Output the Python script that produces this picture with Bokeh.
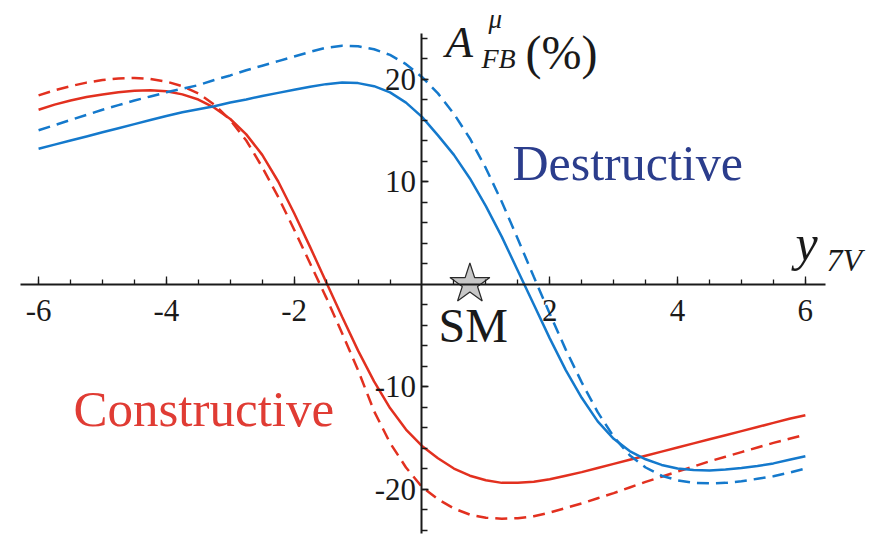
from bokeh.plotting import figure
from bokeh.models import Range1d, LinearAxis, FixedTicker, Label, ColumnDataSource
from bokeh.embed import file_html
from bokeh.resources import INLINE

# ---------------- data ----------------
y7v = [-6.00, -5.75, -5.50, -5.25, -5.00, -4.75, -4.50, -4.25, -4.00, -3.75,
       -3.50, -3.25, -3.00, -2.75, -2.50, -2.25, -2.00, -1.75, -1.50, -1.25,
       -1.00, -0.75, -0.50, -0.25, 0.00, 0.25, 0.50, 0.75, 1.00, 1.25,
       1.50, 1.75, 2.00, 2.25, 2.50, 2.75, 3.00, 3.25, 3.50, 3.75,
       4.00, 4.25, 4.50, 4.75, 5.00, 5.25, 5.50, 5.75, 6.00]

constructive_solid = [17.0, 17.5, 17.9, 18.25, 18.5, 18.7, 18.85, 18.9, 18.8, 18.5,
                      18.0, 17.2, 16.1, 14.6, 12.6, 10.0, 6.9, 3.6, 0.2, -3.2,
                      -6.5, -9.5, -12.1, -14.2, -15.8, -17.0, -18.0, -18.7, -19.15, -19.4,
                      -19.4, -19.3, -19.05, -18.7, -18.35, -17.95, -17.55, -17.15, -16.75, -16.35,
                      -15.95, -15.55, -15.15, -14.75, -14.35, -13.95, -13.55, -13.15, -12.8]

constructive_dashed = [18.4, 18.9, 19.3, 19.65, 19.9, 20.05, 20.1, 20.0, 19.75, 19.3,
                       18.6, 17.5, 16.0, 14.0, 11.4, 8.5, 5.3, 2.0, -1.3, -4.8,
                       -8.4, -12.4, -15.5, -17.9, -19.8, -21.0, -21.9, -22.5, -22.8, -22.9,
                       -22.85, -22.65, -22.3, -21.85, -21.4, -20.9, -20.4, -19.85, -19.3, -18.8,
                       -18.3, -17.8, -17.3, -16.85, -16.4, -15.95, -15.5, -15.1, -14.7]

destructive_solid = [13.2, 13.6, 14.0, 14.4, 14.8, 15.2, 15.6, 16.0, 16.4, 16.75,
                     17.05, 17.35, 17.7, 18.0, 18.35, 18.65, 18.95, 19.25, 19.5, 19.65,
                     19.6, 19.3, 18.7, 17.7, 16.3, 14.5, 12.6, 10.3, 7.6, 4.6,
                     1.3, -2.0, -5.3, -8.4, -11.1, -13.4, -15.1, -16.3, -17.1, -17.65,
                     -18.0, -18.15, -18.2, -18.1, -17.95, -17.75, -17.5, -17.15, -16.8]

destructive_dashed = [15.0, 15.5, 16.0, 16.5, 17.0, 17.45, 17.9, 18.3, 18.7, 19.05,
                      19.4, 19.9, 20.35, 20.85, 21.3, 21.75, 22.2, 22.65, 23.05, 23.25,
                      23.2, 22.9, 22.35, 21.45, 20.2, 18.6, 16.6, 14.2, 11.3, 8.0,
                      4.4, 0.7, -2.9, -6.4, -9.6, -12.5, -14.9, -16.7, -17.9, -18.7,
                      -19.15, -19.4, -19.45, -19.4, -19.25, -19.0, -18.75, -18.4, -18.0]

sm_x = [0.75]
sm_y = [0.0]

x_major_ticks = [-6, -4, -2, 2, 4, 6]
x_minor_ticks = [-6.0, -5.5, -5.0, -4.5, -4.0, -3.5, -3.0, -2.5, -2.0, -1.5, -1.0, -0.5,
                 0.5, 1.0, 1.5, 2.0, 2.5, 3.0, 3.5, 4.0, 4.5, 5.0, 5.5, 6.0]
y_major_ticks = [-20, -10, 10, 20]
y_minor_ticks = [-24, -22, -20, -18, -16, -14, -12, -10, -8, -6, -4, -2,
                 2, 4, 6, 8, 10, 12, 14, 16, 18, 20, 22, 24]

# ---------------- styles ----------------
RED = "#e2301f"
BLUE = "#1479cc"
AXIS = "#1a1a1a"
FONT = "'Liberation Serif', 'Times New Roman', serif"

p = figure(width=885, height=541, output_backend="svg", toolbar_location=None,
           x_range=Range1d(-6.596, 7.254), y_range=Range1d(-25.12, 27.66),
           x_axis_location=None, y_axis_location=None,
           min_border=0, min_border_left=0, min_border_right=0,
           min_border_top=0, min_border_bottom=0)
p.outline_line_color = None
p.xgrid.visible = False
p.ygrid.visible = False
p.background_fill_color = "white"
p.border_fill_color = "white"

src = ColumnDataSource(dict(x=y7v, cs=constructive_solid, cd=constructive_dashed,
                            ds=destructive_solid, dd=destructive_dashed))

p.line("x", "cs", source=src, line_color=RED, line_width=2.5)
p.line("x", "cd", source=src, line_color=RED, line_width=2.5, line_dash="12 7")
p.line("x", "ds", source=src, line_color=BLUE, line_width=2.5)
p.line("x", "dd", source=src, line_color=BLUE, line_width=2.5, line_dash="12 7")

# axes through the origin
xaxis = LinearAxis(fixed_location=0, bounds=(-6.28, 6.31),
                   ticker=FixedTicker(ticks=x_major_ticks, minor_ticks=x_minor_ticks))
xaxis.major_label_overrides = {t: str(t) for t in x_major_ticks}
xaxis.axis_line_color = AXIS
xaxis.axis_line_width = 2
xaxis.major_tick_in = 8
xaxis.major_tick_out = 0
xaxis.minor_tick_in = 5
xaxis.minor_tick_out = 0
xaxis.major_tick_line_color = AXIS
xaxis.minor_tick_line_color = AXIS
xaxis.major_tick_line_width = 1.3
xaxis.minor_tick_line_width = 1.3
xaxis.major_label_standoff = 16
xaxis.major_label_text_font = FONT
xaxis.major_label_text_font_size = "31px"
xaxis.major_label_text_color = AXIS
p.add_layout(xaxis, "below")

yaxis = LinearAxis(fixed_location=0, bounds=(-24.3, 24.45),
                   ticker=FixedTicker(ticks=y_major_ticks, minor_ticks=y_minor_ticks))
yaxis.major_label_overrides = {t: str(t) for t in y_major_ticks}
yaxis.axis_line_color = AXIS
yaxis.axis_line_width = 2
yaxis.major_tick_in = 7
yaxis.major_tick_out = 0
yaxis.minor_tick_in = 6
yaxis.minor_tick_out = 0
yaxis.major_tick_line_color = AXIS
yaxis.minor_tick_line_color = AXIS
yaxis.major_tick_line_width = 1.3
yaxis.minor_tick_line_width = 1.3
yaxis.major_label_standoff = 6
yaxis.major_label_text_font = FONT
yaxis.major_label_text_font_size = "31px"
yaxis.major_label_text_color = AXIS
p.add_layout(yaxis, "left")

# SM point
p.scatter(sm_x, sm_y, marker="star", size=42, fill_color="#c8c8c8",
          line_color="#2a2a2a", line_width=1.2)


def lab(x, y, text, size, color=AXIS, style="normal"):
    p.add_layout(Label(x=x, y=y, text=text, text_font=FONT, text_font_size=size,
                       text_color=color, text_font_style=style,
                       text_baseline="alphabetic", text_align="left"))


lab(0.258, -4.05, "SM", "48px")
lab(1.416, 11.85, "Destructive", "50px", color="#2b3d8c")
lab(-5.454, -12.24, "Constructive", "51px", color="#e03c34")

# y-axis title  A_FB^mu (%)
lab(0.37, 23.66, "A", "45px", style="italic")
lab(0.93, 22.0, "FB", "28px", style="italic")
lab(1.04, 25.9, "\u03bc", "27px", style="italic")
lab(1.62, 22.6, "(%)", "48px")

# x-axis title  y_7V
lab(5.845, 4.05, "y", "50px", style="italic")
lab(6.33, 2.3, "7V", "32px", style="italic")

open("out.html", "w").write(file_html(p, INLINE))
